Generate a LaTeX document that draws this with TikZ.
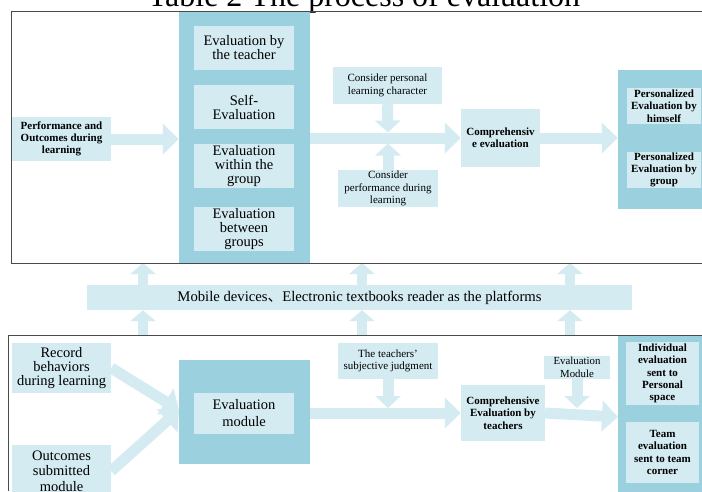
\documentclass[tikz,border=0pt]{standalone}
\usepackage{fontspec}
\setmainfont{Liberation Serif}
\newfontfamily\cjkfont{Noto Sans CJK SC}
\usetikzlibrary{arrows.meta}
\definecolor{midblue}{HTML}{9BD0DE}
\definecolor{lightblue}{HTML}{D3EBF1}
\definecolor{framegray}{HTML}{4A4A4A}
\begin{document}
\begin{tikzpicture}[x=1pt,y=-1pt,
  sz/.style 2 args={minimum width=#1pt,minimum height=#2pt},
  midbox/.style={fill=midblue,inner sep=0pt},
  lbox/.style={fill=lightblue,inner sep=0pt,align=center},
  bigtxt/.style={font=\fontsize{14.5}{14}\selectfont},
  smalltxt/.style={font=\fontsize{11}{12.5}\selectfont},
  boldtxt/.style={font=\bfseries\fontsize{11}{12.3}\selectfont},
  fat/.style={draw=lightblue,line width=11pt,-{Triangle[width=30pt,length=16pt]}},
  fatv/.style={draw=lightblue,line width=11pt,-{Triangle[width=25pt,length=12pt]}},
  fatb/.style={draw=lightblue,line width=9.5pt,-{Triangle[width=25pt,length=11pt]}},
  frame/.style={draw=framegray,line width=0.9pt}]
\useasboundingbox (0,0) rectangle (702,491);
\clip (0,0) rectangle (702,491);
% title (cut off at the top)
\node[anchor=base,inner sep=0pt,font=\fontsize{32}{32}\selectfont] (title) at (364,6.5) {Table 2 The process of evaluation};
% ---------- upper part ----------
\node[midbox,sz={131}{252}] (col1) at (244.5,137) {};
\node[lbox,sz={100}{44},bigtxt] (t1) at (244,48) {Evaluation by\\the teacher};
\node[lbox,sz={100}{44},bigtxt] (t2) at (244,107) {Self-\\Evaluation};
\node[lbox,sz={100}{44},bigtxt] (t3) at (244,166) {Evaluation\\within the\\group};
\node[lbox,sz={100}{44},bigtxt] (t4) at (244,229) {Evaluation\\between\\groups};
\node[lbox,sz={99}{44},font=\bfseries\fontsize{11}{12.3}\selectfont] (perf) at (61.5,139) {Performance and\\Outcomes during\\learning};
\node[lbox,sz={109}{37},smalltxt] (cp) at (387.5,85.5) {Consider personal\\learning character};
\node[lbox,sz={100}{37},smalltxt] (cperf) at (388,188.5) {Consider\\performance during\\learning};
\node[lbox,sz={79}{58},boldtxt] (comp) at (500.5,138) {Comprehensiv\\e evaluation};
\node[midbox,sz={92}{139}] (pcol) at (664,139.5) {};
\node[lbox,sz={74}{36},boldtxt] (p1) at (664,106) {Personalized\\Evaluation by\\himself};
\node[lbox,sz={74}{36},boldtxt] (p2) at (664,170) {Personalized\\Evaluation by\\group};
\coordinate (cpt) at (388,132.5);
\coordinate (cperft) at (388,143.5);
\draw[fat] (perf.east) -- (perf.east -| col1.west);
\draw[fat] (col1.east |- comp.west) -- (comp.west);
\draw[fatv] (cp.south) -- (cpt);
\draw[fatv] (cperf.north) -- (cperft);
\draw[fat] (comp.east) -- (comp.east -| pcol.west);
% ---------- platform band ----------
\node[lbox,sz={545}{25},font=\fontsize{14.7}{14}\selectfont] (band) at (359.5,297.5) {Mobile devices{\cjkfont 、}Electronic textbooks reader as the platforms};
\coordinate (a1) at (143,263);
\coordinate (a2) at (362,263);
\coordinate (a3) at (570,263);
\coordinate (b1) at (143,335);
\coordinate (b2) at (362,335);
\coordinate (b3) at (570,335);
\foreach \i in {1,2,3}{
  \draw[fatb] (b\i) -- (b\i |- band.south);
  \draw[fatb] (band.north -| a\i) -- (a\i);
}
% ---------- lower part ----------
\node[lbox,sz={99}{50},bigtxt] (rec) at (61.5,368) {Record\\behaviors\\during learning};
\node[lbox,sz={99}{52},font=\fontsize{14.5}{15.5}\selectfont] (out) at (61.5,471) {Outcomes\\submitted\\module};
\node[midbox,sz={131}{104}] (emo) at (244.5,412) {};
\node[lbox,sz={100}{41},font=\fontsize{14.5}{17}\selectfont] (emi) at (244,413.5) {Evaluation\\module};
\node[lbox,sz={100}{36},smalltxt] (tj) at (388,361) {The teachers’\\subjective judgment};
\node[lbox,sz={84}{56},boldtxt] (comp2) at (503,413) {Comprehensive\\Evaluation by\\teachers};
\node[lbox,sz={66}{23},font=\fontsize{10.8}{12.5}\selectfont] (em) at (577,367.5) {Evaluation\\Module};
\node[midbox,sz={92}{160}] (lcol) at (664,415) {};
\node[lbox,sz={73}{63},boldtxt] (ind) at (662.5,373.5) {Individual\\evaluation\\sent to\\Personal\\space};
\node[lbox,sz={73}{61},boldtxt] (team) at (662.5,452.5) {Team\\evaluation\\sent to team\\corner};
\coordinate (mtip) at (179,410);
\coordinate (tjt) at (388,408);
\coordinate (emt) at (577,408);
\coordinate (lct) at (618,417);
\draw[fat] (rec.east) -- (mtip);
\draw[fat] (out.east) -- (mtip);
\draw[fat] (emo.east |- comp2.west) -- (comp2.west);
\draw[fatv] (tj.south) -- (tjt);
\draw[fatv] (em.south) -- (emt);
\draw[fat] (comp2.east) -- (lct);
% ---------- frames ----------
\draw[frame] (702,11) -- (11,11) -- (11,263) -- (702,263);
\draw[frame] (702,335) -- (8,335) -- (8,491);
\end{tikzpicture}
\end{document}
